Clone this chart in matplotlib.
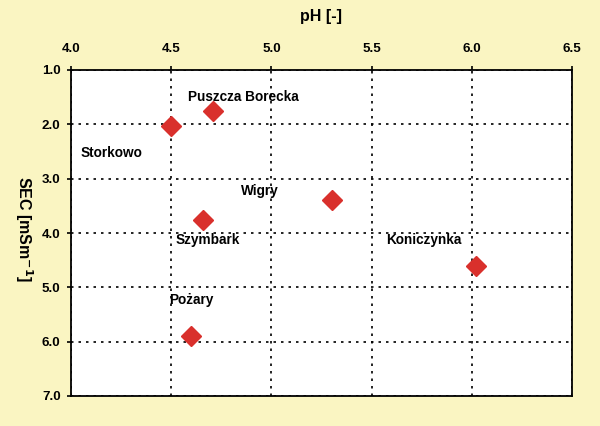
import matplotlib
matplotlib.use("Agg")
import matplotlib.pyplot as plt

sites = ["Storkowo", "Puszcza Borecka", "Szymbark", "Wigry", "Koniczynka", "Pożary"]
ph = [4.50, 4.71, 4.66, 5.30, 6.02, 4.60]
sec = [2.03, 1.75, 3.76, 3.39, 4.61, 5.90]
label_x = [4.20, 4.86, 4.68, 4.94, 5.76, 4.60]
label_y = [2.53, 1.50, 4.13, 3.23, 4.13, 5.24]
x_ticks = [4.0, 4.5, 5.0, 5.5, 6.0, 6.5]
y_ticks = [1.0, 2.0, 3.0, 4.0, 5.0, 6.0, 7.0]

plt.rcParams['font.family'] = ['Liberation Sans', 'DejaVu Sans']

bg = "#FAF5C2"
fig = plt.figure(figsize=(6, 4.26), dpi=100, facecolor=bg)
ax = fig.add_axes([71/600, 1-396/426, 501/600, 326/426])
ax.set_facecolor("white")

ax.plot(ph, sec, linestyle="none", marker="D", ms=10.5, color="#D9302C",
        markeredgecolor="#D9302C", zorder=3)
for s, lx, ly in zip(sites, label_x, label_y):
    ax.text(lx, ly, s, ha="center", va="center", fontsize=9.8, fontweight="bold", zorder=4)

ax.set_xlim(4.0, 6.5)
ax.set_ylim(7.0, 1.0)
ax.set_xticks(x_ticks)
ax.set_yticks(y_ticks)
ax.set_xticklabels([f"{v:.1f}" for v in x_ticks], fontsize=9.6, fontweight="bold")
ax.set_yticklabels([f"{v:.1f}" for v in y_ticks], fontsize=9.6, fontweight="bold")
ax.xaxis.tick_top()
ax.xaxis.set_label_position("top")
ax.tick_params(axis="both", direction="out", length=3, width=1.2)
ax.tick_params(axis="x", pad=7.5)
ax.tick_params(axis="y", pad=4.5)
ax.grid(True, color="black", linestyle=(0, (1.5, 3)), linewidth=1.2)
for sp in ax.spines.values():
    sp.set_linewidth(1.3)

ax.set_xlabel("pH [-]", fontsize=11.5, fontweight="bold", labelpad=16)
ax.set_ylabel(r"SEC [mSm$^{\mathbf{-1}}$]", fontsize=11.5, fontweight="bold", rotation=-90,
              va="center", labelpad=0)
ax.yaxis.set_label_coords(-0.094, 0.512)

fig.savefig("out.png", dpi=100, facecolor=bg)
